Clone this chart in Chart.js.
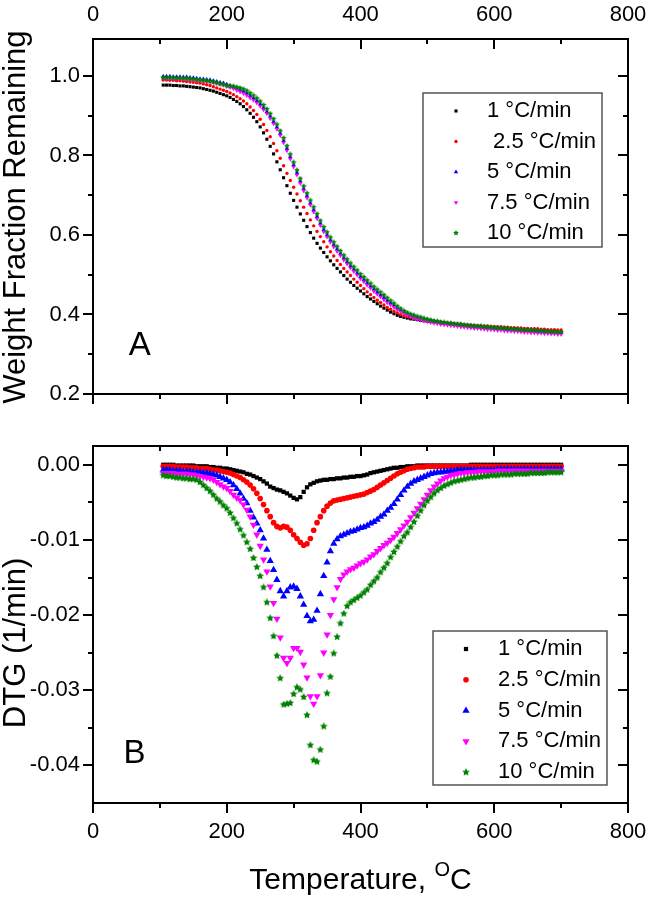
<!DOCTYPE html>
<html>
<head>
<meta charset="utf-8">
<script src="https://cdn.jsdelivr.net/npm/chart.js@4.4.1/dist/chart.umd.min.js"></script>
<style>
  html, body { margin: 0; padding: 0; background: #fff; }
  #wrap { position: relative; width: 646px; height: 902px; }
  #tga, #dtg { position: absolute; left: 0; }
  #tga { top: 0; }
  #dtg { top: 420px; }
</style>
</head>
<body>
<div id="wrap">
  <canvas id="tga" width="646" height="420"></canvas>
  <canvas id="dtg" width="646" height="482"></canvas>
</div>
<script>
// temperature of every sample, °C
const temps = [105,110,115,120,125,130,135,140,145,150,
  155,160,165,170,175,180,185,190,195,200,
  205,210,215,220,225,230,235,240,245,250,
  255,260,265,270,275,280,285,290,295,300,
  305,310,315,320,325,330,335,340,345,350,
  355,360,365,370,375,380,385,390,395,400,
  405,410,415,420,425,430,435,440,445,450,
  455,460,465,470,475,480,485,490,495,500,
  505,510,515,520,525,530,535,540,545,550,
  555,560,565,570,575,580,585,590,595,600,
  605,610,615,620,625,630,635,640,645,650,
  655,660,665,670,675,680,685,690,695,700];

const tgaLabels = ['1 °C/min', ' 2.5 °C/min', '5 °C/min', '7.5 °C/min', '10 °C/min'];
const dtgLabels = ['1 °C/min', '2.5 °C/min', '5 °C/min', '7.5 °C/min', '10 °C/min'];

// weight fraction remaining (panel A)
const wt1 = [.977,.977,.977,.976,.976,.975,.975,.974,.973,.972,
  .971,.970,.968,.966,.964,.962,.959,.956,.953,.950,
  .946,.941,.936,.930,.923,.915,.906,.896,.885,.872,
  .857,.841,.823,.804,.784,.764,.744,.724,.705,.687,
  .670,.653,.637,.621,.606,.592,.579,.567,.556,.545,
  .535,.525,.516,.507,.498,.489,.481,.473,.466,.459,
  .452,.445,.439,.433,.427,.421,.416,.411,.406,.402,
  .398,.395,.393,.391,.389,.388,.387,.385,.384,.383,
  .382,.381,.380,.379,.378,.377,.376,.375,.374,.373,
  .372,.372,.371,.370,.369,.369,.368,.367,.367,.366,
  .365,.365,.364,.364,.363,.362,.362,.361,.361,.360,
  .360,.359,.359,.358,.358,.357,.357,.356,.356,.355];
const wt25 = [.990,.990,.989,.989,.988,.988,.987,.986,.985,.984,
  .983,.982,.980,.978,.976,.973,.970,.967,.964,.961,
  .957,.953,.948,.943,.937,.930,.922,.913,.903,.891,
  .878,.863,.847,.830,.812,.793,.774,.755,.737,.720,
  .703,.686,.670,.654,.638,.623,.609,.596,.583,.570,
  .558,.547,.536,.526,.516,.507,.498,.489,.481,.473,
  .465,.457,.450,.443,.436,.430,.424,.418,.413,.408,
  .404,.400,.397,.395,.393,.391,.389,.388,.386,.385,
  .384,.383,.382,.381,.380,.379,.378,.377,.376,.376,
  .375,.374,.374,.373,.372,.372,.371,.371,.370,.370,
  .369,.369,.368,.368,.367,.367,.366,.366,.365,.365,
  .364,.364,.364,.363,.363,.362,.362,.362,.361,.361];
const wt5 = [.999,.999,.999,.998,.998,.998,.997,.997,.996,.995,
  .994,.993,.992,.991,.990,.988,.986,.984,.982,.979,
  .976,.973,.969,.965,.961,.956,.950,.944,.937,.929,
  .920,.910,.898,.885,.871,.855,.837,.817,.796,.776,
  .756,.735,.716,.698,.680,.663,.646,.629,.613,.600,
  .587,.575,.564,.553,.542,.532,.522,.513,.504,.495,
  .487,.479,.471,.463,.456,.449,.442,.435,.429,.423,
  .417,.412,.407,.403,.399,.396,.393,.391,.389,.387,
  .385,.383,.382,.380,.379,.378,.377,.376,.375,.374,
  .373,.372,.371,.370,.370,.369,.368,.367,.367,.366,
  .365,.365,.364,.363,.363,.362,.362,.361,.360,.360,
  .359,.359,.358,.358,.357,.357,.356,.356,.355,.355];
const wt75 = [.994,.994,.994,.993,.993,.993,.992,.992,.991,.990,
  .989,.988,.987,.986,.985,.983,.981,.979,.977,.974,
  .971,.968,.964,.960,.956,.951,.945,.939,.932,.924,
  .915,.905,.893,.880,.866,.850,.832,.812,.791,.771,
  .751,.730,.711,.693,.675,.658,.641,.624,.608,.595,
  .582,.570,.559,.548,.537,.527,.517,.508,.499,.490,
  .482,.474,.466,.458,.451,.444,.437,.430,.424,.418,
  .412,.407,.402,.398,.394,.391,.388,.386,.384,.382,
  .380,.378,.377,.375,.374,.373,.372,.371,.370,.369,
  .368,.367,.366,.365,.365,.364,.363,.362,.362,.361,
  .360,.360,.359,.358,.358,.357,.357,.356,.355,.355,
  .354,.354,.353,.353,.352,.352,.351,.351,.350,.350];
const wt10 = [.996,.996,.996,.995,.995,.995,.994,.994,.993,.992,
  .991,.990,.989,.988,.987,.985,.983,.981,.979,.976,
  .975,.974,.972,.970,.967,.963,.957,.951,.944,.936,
  .927,.917,.905,.892,.878,.862,.844,.824,.803,.783,
  .763,.742,.723,.705,.687,.670,.653,.636,.620,.607,
  .594,.582,.571,.560,.549,.539,.529,.520,.511,.502,
  .494,.486,.478,.470,.463,.456,.449,.442,.435,.428,
  .421,.415,.409,.405,.401,.398,.395,.393,.390,.388,
  .386,.384,.383,.381,.380,.379,.378,.377,.376,.375,
  .374,.373,.372,.371,.371,.370,.369,.368,.368,.367,
  .366,.366,.365,.364,.364,.363,.363,.362,.361,.361,
  .360,.360,.359,.359,.358,.358,.357,.357,.356,.356];

// DTG, 1/min (panel B)
const dtg1 = [0,0,0,0,-0.0001,-0.0001,-0.0001,-0.0001,-0.0001,-0.0001,
  -0.0002,-0.0002,-0.0002,-0.0002,-0.0003,-0.0003,-0.0004,-0.0004,-0.0005,-0.0005,
  -0.0006,-0.0007,-0.0008,-0.0009,-0.0010,-0.0012,-0.0013,-0.0015,-0.0017,-0.0019,
  -0.0022,-0.0025,-0.0029,-0.0031,-0.0033,-0.0034,-0.0036,-0.0038,-0.0041,-0.0044,
  -0.0046,-0.0043,-0.0036,-0.0030,-0.0026,-0.0024,-0.0022,-0.0021,-0.0020,-0.0020,
  -0.0019,-0.0019,-0.0018,-0.0018,-0.0017,-0.0017,-0.0016,-0.0016,-0.0015,-0.0015,
  -0.0014,-0.0013,-0.0011,-0.0010,-0.0009,-0.0008,-0.0007,-0.0006,-0.0005,-0.0004,
  -0.0004,-0.0003,-0.0003,-0.0002,-0.0002,-0.0002,-0.0001,-0.0001,-0.0001,-0.0001,
  -0.0001,-0.0001,-0.0001,-0.0001,-0.0001,-0.0001,-0.0001,-0.0001,-0.0001,-0.0001,
  -0.0001,-0.0001,0,0,0,0,0,0,0,0,
  0,0,0,0,0,0,0,0,0,0,
  0,0,0,0,0,0,0,0,0,0];
const dtg25 = [-0.0002,-0.0002,-0.0002,-0.0002,-0.0003,-0.0003,-0.0003,-0.0003,-0.0004,-0.0004,
  -0.0004,-0.0005,-0.0005,-0.0005,-0.0006,-0.0007,-0.0007,-0.0008,-0.0009,-0.0010,
  -0.0011,-0.0013,-0.0015,-0.0017,-0.0020,-0.0023,-0.0027,-0.0032,-0.0038,-0.0045,
  -0.0053,-0.0061,-0.0069,-0.0077,-0.0082,-0.0084,-0.0082,-0.0083,-0.0087,-0.0093,
  -0.0098,-0.0103,-0.0107,-0.0105,-0.0098,-0.0087,-0.0077,-0.0069,-0.0061,-0.0055,
  -0.0051,-0.0048,-0.0047,-0.0046,-0.0045,-0.0044,-0.0043,-0.0042,-0.0041,-0.0040,
  -0.0039,-0.0037,-0.0035,-0.0033,-0.0030,-0.0027,-0.0024,-0.0021,-0.0018,-0.0015,
  -0.0012,-0.0010,-0.0008,-0.0006,-0.0005,-0.0004,-0.0003,-0.0003,-0.0003,-0.0002,
  -0.0002,-0.0002,-0.0002,-0.0002,-0.0002,-0.0002,-0.0002,-0.0002,-0.0002,-0.0002,
  -0.0002,-0.0002,-0.0002,-0.0002,-0.0002,-0.0002,-0.0002,-0.0002,-0.0002,-0.0002,
  -0.0002,-0.0002,-0.0002,-0.0002,-0.0002,-0.0002,-0.0002,-0.0002,-0.0002,-0.0002,
  -0.0002,-0.0002,-0.0002,-0.0002,-0.0002,-0.0002,-0.0002,-0.0002,-0.0002,-0.0002];
const dtg5 = [-0.0007,-0.0007,-0.0007,-0.0008,-0.0008,-0.0008,-0.0009,-0.0009,-0.0009,-0.0010,
  -0.0010,-0.0010,-0.0011,-0.0011,-0.0012,-0.0013,-0.0014,-0.0016,-0.0018,-0.0020,
  -0.0023,-0.0027,-0.0032,-0.0038,-0.0045,-0.0051,-0.0061,-0.0070,-0.0078,-0.0087,
  -0.0098,-0.0113,-0.0128,-0.0140,-0.0153,-0.0168,-0.0175,-0.0168,-0.0163,-0.0162,
  -0.0165,-0.0175,-0.0186,-0.0201,-0.0208,-0.0206,-0.0194,-0.0172,-0.0148,-0.0130,
  -0.0115,-0.0105,-0.0099,-0.0095,-0.0093,-0.0091,-0.0089,-0.0088,-0.0086,-0.0084,
  -0.0083,-0.0081,-0.0078,-0.0076,-0.0073,-0.0069,-0.0066,-0.0061,-0.0057,-0.0052,
  -0.0046,-0.0040,-0.0034,-0.0029,-0.0025,-0.0022,-0.0020,-0.0018,-0.0016,-0.0014,
  -0.0012,-0.0011,-0.0010,-0.0010,-0.0009,-0.0009,-0.0008,-0.0008,-0.0007,-0.0007,
  -0.0007,-0.0007,-0.0007,-0.0007,-0.0007,-0.0007,-0.0007,-0.0007,-0.0007,-0.0007,
  -0.0006,-0.0006,-0.0006,-0.0006,-0.0006,-0.0006,-0.0006,-0.0006,-0.0006,-0.0006,
  -0.0006,-0.0006,-0.0006,-0.0006,-0.0006,-0.0006,-0.0006,-0.0006,-0.0006,-0.0006];
const dtg75 = [-0.0011,-0.0011,-0.0011,-0.0011,-0.0012,-0.0012,-0.0012,-0.0012,-0.0013,-0.0013,
  -0.0014,-0.0015,-0.0016,-0.0017,-0.0018,-0.0020,-0.0023,-0.0026,-0.0029,-0.0031,
  -0.0035,-0.0040,-0.0044,-0.0047,-0.0053,-0.0060,-0.0069,-0.0080,-0.0093,-0.0108,
  -0.0126,-0.0142,-0.0162,-0.0184,-0.0205,-0.0230,-0.0257,-0.0264,-0.0257,-0.0244,
  -0.0244,-0.0249,-0.0266,-0.0283,-0.0308,-0.0318,-0.0308,-0.0280,-0.0250,-0.0226,
  -0.0200,-0.0179,-0.0163,-0.0152,-0.0146,-0.0142,-0.0139,-0.0137,-0.0134,-0.0131,
  -0.0129,-0.0126,-0.0122,-0.0119,-0.0115,-0.0111,-0.0107,-0.0104,-0.0100,-0.0096,
  -0.0091,-0.0086,-0.0081,-0.0076,-0.0070,-0.0064,-0.0058,-0.0052,-0.0046,-0.0040,
  -0.0034,-0.0029,-0.0025,-0.0021,-0.0018,-0.0016,-0.0014,-0.0013,-0.0012,-0.0011,
  -0.0011,-0.0010,-0.0010,-0.0010,-0.0009,-0.0009,-0.0009,-0.0009,-0.0009,-0.0009,
  -0.0008,-0.0008,-0.0008,-0.0008,-0.0008,-0.0008,-0.0008,-0.0008,-0.0008,-0.0008,
  -0.0008,-0.0008,-0.0008,-0.0008,-0.0008,-0.0008,-0.0008,-0.0008,-0.0008,-0.0008];
const dtg10 = [-0.0014,-0.0015,-0.0015,-0.0016,-0.0017,-0.0017,-0.0018,-0.0018,-0.0019,-0.0019,
  -0.0020,-0.0023,-0.0027,-0.0031,-0.0035,-0.0040,-0.0045,-0.0049,-0.0054,-0.0058,
  -0.0064,-0.0071,-0.0078,-0.0086,-0.0094,-0.0103,-0.0112,-0.0124,-0.0136,-0.0148,
  -0.0163,-0.0183,-0.0204,-0.0228,-0.0254,-0.0284,-0.0319,-0.0318,-0.0317,-0.0305,
  -0.0296,-0.0299,-0.0309,-0.0333,-0.0373,-0.0393,-0.0395,-0.0379,-0.0348,-0.0304,
  -0.0282,-0.0251,-0.0229,-0.0211,-0.0198,-0.0188,-0.0183,-0.0180,-0.0177,-0.0174,
  -0.0170,-0.0166,-0.0160,-0.0155,-0.0150,-0.0143,-0.0137,-0.0131,-0.0123,-0.0116,
  -0.0109,-0.0102,-0.0095,-0.0090,-0.0083,-0.0076,-0.0068,-0.0061,-0.0054,-0.0048,
  -0.0043,-0.0038,-0.0034,-0.0031,-0.0028,-0.0026,-0.0024,-0.0022,-0.0021,-0.0020,
  -0.0019,-0.0018,-0.0017,-0.0017,-0.0016,-0.0016,-0.0015,-0.0015,-0.0014,-0.0014,
  -0.0014,-0.0013,-0.0013,-0.0013,-0.0013,-0.0012,-0.0012,-0.0012,-0.0012,-0.0012,
  -0.0011,-0.0011,-0.0011,-0.0011,-0.0011,-0.0010,-0.0010,-0.0010,-0.0010,-0.0010];

// tick positions
const xTicks = [0,100,200,300,400,500,600,700,800];
const wtTicks = [0.2,0.3,0.4,0.5,0.6,0.7,0.8,0.9,1.0];
const dtgTicks = [0,-0.005,-0.01,-0.015,-0.02,-0.025,-0.03,-0.035,-0.04];

const FONT = '"Liberation Sans", Arial, sans-serif';
Chart.defaults.font.family = FONT;
Chart.defaults.color = '#000';

const colors = ['#000000', '#ff0000', '#0000ff', '#ff00ff', '#008000'];

function starImg(d, color) {
  const c = document.createElement('canvas');
  c.width = d; c.height = d;
  const g = c.getContext('2d');
  const R = d / 2, r = R * 0.5;
  g.fillStyle = color;
  g.beginPath();
  for (let k = 0; k < 10; k++) {
    const a = -Math.PI / 2 + k * Math.PI / 5;
    const rr = k % 2 ? r : R;
    g.lineTo(R + rr * Math.cos(a), R + rr * Math.sin(a));
  }
  g.closePath();
  g.fill();
  return c;
}

const smallMarks = [
  {style: 'rect', r: 2.2, rot: 0},
  {style: 'circle', r: 1.7, rot: 0},
  {style: 'triangle', r: 2.6, rot: 0},
  {style: 'triangle', r: 2.6, rot: 180},
  {style: starImg(6, colors[4]), r: 3, rot: 0}
];
const bigMarks = [
  {style: 'rect', r: 3, rot: 0},
  {style: 'circle', r: 2.8, rot: 0},
  {style: 'triangle', r: 4.2, rot: 0},
  {style: 'triangle', r: 4.2, rot: 180},
  {style: starImg(8, colors[4]), r: 4, rot: 0}
];

function makeSets(series, labels, marks) {
  return series.map((ys, i) => ({
    label: labels[i],
    data: temps.map((t, k) => ({x: t, y: ys[k]})),
    showLine: false,
    pointStyle: marks[i].style,
    pointRadius: marks[i].r,
    pointHoverRadius: marks[i].r,
    pointRotation: marks[i].rot,
    pointBackgroundColor: colors[i],
    pointBorderColor: colors[i],
    pointBorderWidth: 0,
    order: 5 - i
  }));
}

function isMajor(v, step) {
  const q = v / step;
  return Math.abs(q - Math.round(q)) < 1e-6;
}

// box round the plot with ticks: out on left/bottom, in on top/right
function framePlugin(yTicks, yMajor) {
  return {
    id: 'frame',
    afterDatasetsDraw(chart) {
      const {ctx, chartArea: a} = chart;
      const x = chart.scales.x, y = chart.scales.y;
      ctx.save();
      ctx.strokeStyle = '#000';
      ctx.lineWidth = 2;
      ctx.beginPath();
      xTicks.forEach(v => {
        const p = Math.round(x.getPixelForValue(v));
        const l = isMajor(v, 200) ? 10 : 5;
        ctx.moveTo(p, a.bottom); ctx.lineTo(p, a.bottom + l);
        ctx.moveTo(p, a.top); ctx.lineTo(p, a.top + l);
      });
      yTicks.forEach(v => {
        const p = Math.round(y.getPixelForValue(v));
        const l = isMajor(v, yMajor) ? 10 : 5;
        ctx.moveTo(a.left, p); ctx.lineTo(a.left - l, p);
        ctx.moveTo(a.right, p); ctx.lineTo(a.right - l, p);
      });
      ctx.stroke();
      ctx.strokeRect(a.left, a.top, a.right - a.left, a.bottom - a.top);
      ctx.restore();
    }
  };
}

function legendPlugin(box, firstRow, step, markX, textX) {
  return {
    id: 'boxLegend',
    afterDatasetsDraw(chart) {
      const ctx = chart.ctx;
      ctx.save();
      ctx.strokeStyle = '#555';
      ctx.lineWidth = 1.5;
      ctx.strokeRect(box[0], box[1], box[2] - box[0], box[3] - box[1]);
      ctx.font = '22px ' + FONT;
      ctx.textBaseline = 'middle';
      chart.data.datasets.forEach((ds, i) => {
        const yy = firstRow + i * step;
        ctx.fillStyle = ds.pointBackgroundColor;
        Chart.helpers.drawPoint(ctx, {pointStyle: ds.pointStyle, radius: ds.pointRadius,
          rotation: ds.pointRotation, borderWidth: 0}, markX, yy);
        ctx.fillStyle = '#000';
        ctx.fillText(ds.label, textX, yy);
      });
      ctx.restore();
    }
  };
}

function notePlugin(text, xv, yv) {
  return {
    id: 'note',
    afterDraw(chart) {
      const ctx = chart.ctx;
      ctx.save();
      ctx.font = '33px ' + FONT;
      ctx.fillStyle = '#000';
      ctx.textAlign = 'center';
      ctx.textBaseline = 'middle';
      ctx.fillText(text, chart.scales.x.getPixelForValue(xv), chart.scales.y.getPixelForValue(yv));
      ctx.restore();
    }
  };
}

// rotated y-axis title, centred on a value of the y scale
function yTitlePlugin(text, yv) {
  return {
    id: 'yTitle',
    afterDraw(chart) {
      const ctx = chart.ctx;
      ctx.save();
      ctx.translate(16, chart.scales.y.getPixelForValue(yv));
      ctx.rotate(-Math.PI / 2);
      ctx.font = '31px ' + FONT;
      ctx.fillStyle = '#000';
      ctx.textAlign = 'center';
      ctx.textBaseline = 'middle';
      ctx.fillText(text, 0, 0);
      ctx.restore();
    }
  };
}

const xTitlePlugin = {
  id: 'xTitle',
  afterDraw(chart) {
    const {ctx, chartArea: a} = chart;
    const big = '30px ' + FONT, small = '20px ' + FONT;
    ctx.save();
    ctx.fillStyle = '#000';
    ctx.textBaseline = 'alphabetic';
    ctx.font = big;
    const w1 = ctx.measureText('Temperature, ').width;
    const w3 = ctx.measureText('C').width;
    ctx.font = small;
    const w2 = ctx.measureText('O').width;
    const x0 = (a.left + a.right) / 2 - (w1 + w2 + w3) / 2;
    const base = chart.height - 13;
    ctx.font = big;
    ctx.fillText('Temperature, ', x0, base);
    ctx.font = small;
    ctx.fillText('O', x0 + w1, base - 13);
    ctx.font = big;
    ctx.fillText('C', x0 + w1 + w2, base);
    ctx.restore();
  }
};

function fixX(h) {
  return s => { s.height = h; s.paddingLeft = 0; s.paddingRight = 0; };
}
function fixY(w) {
  return s => { s.width = w; s.paddingTop = 0; s.paddingBottom = 0; };
}

new Chart(document.getElementById('tga'), {
  type: 'scatter',
  data: {datasets: makeSets([wt1, wt25, wt5, wt75, wt10], tgaLabels, smallMarks)},
  options: {
    responsive: false,
    animation: false,
    devicePixelRatio: 1,
    events: [],
    layout: {padding: {top: 0, right: 18, bottom: 26, left: 0}},
    plugins: {legend: {display: false}, tooltip: {enabled: false}},
    scales: {
      x: {
        type: 'linear', position: 'top', min: 0, max: 800,
        grid: {display: false, drawTicks: false}, border: {display: false},
        ticks: {stepSize: 200, padding: 11, maxRotation: 0, autoSkip: false, includeBounds: false,
          font: {size: 22}, color: '#000'},
        afterFit: fixX(39)
      },
      y: {
        min: 0.2, max: 1.093,
        grid: {display: false, drawTicks: false}, border: {display: false},
        ticks: {stepSize: 0.2, padding: 13, includeBounds: false, font: {size: 22}, color: '#000',
          callback: v => v.toFixed(1)},
        afterFit: fixY(93)
      }
    }
  },
  plugins: [framePlugin(wtTicks, 0.2), legendPlugin([423, 93, 602, 247], 111, 30.5, 456, 487),
    notePlugin('A', 70, 0.32), yTitlePlugin('Weight Fraction Remaining', 0.645)]
});

new Chart(document.getElementById('dtg'), {
  type: 'scatter',
  data: {datasets: makeSets([dtg1, dtg25, dtg5, dtg75, dtg10], dtgLabels, bigMarks)},
  options: {
    responsive: false,
    animation: false,
    devicePixelRatio: 1,
    events: [],
    layout: {padding: {top: 26, right: 18, bottom: 0, left: 0}},
    plugins: {legend: {display: false}, tooltip: {enabled: false}},
    scales: {
      x: {
        type: 'linear', position: 'bottom', min: 0, max: 800,
        grid: {display: false, drawTicks: false}, border: {display: false},
        ticks: {stepSize: 200, padding: 16, maxRotation: 0, autoSkip: false, includeBounds: false,
          font: {size: 22}, color: '#000'},
        afterFit: fixX(99)
      },
      y: {
        min: -0.045, max: 0.0025,
        grid: {display: false, drawTicks: false}, border: {display: false},
        ticks: {stepSize: 0.01, padding: 13, includeBounds: false, font: {size: 22}, color: '#000',
          callback: v => v.toFixed(2)},
        afterFit: fixY(93)
      }
    }
  },
  plugins: [framePlugin(dtgTicks, 0.01), legendPlugin([433, 211, 607, 365], 229, 30.8, 466, 498),
    notePlugin('B', 62, -0.0385), yTitlePlugin('DTG (1/min)', -0.0237), xTitlePlugin]
});
</script>
</body>
</html>
